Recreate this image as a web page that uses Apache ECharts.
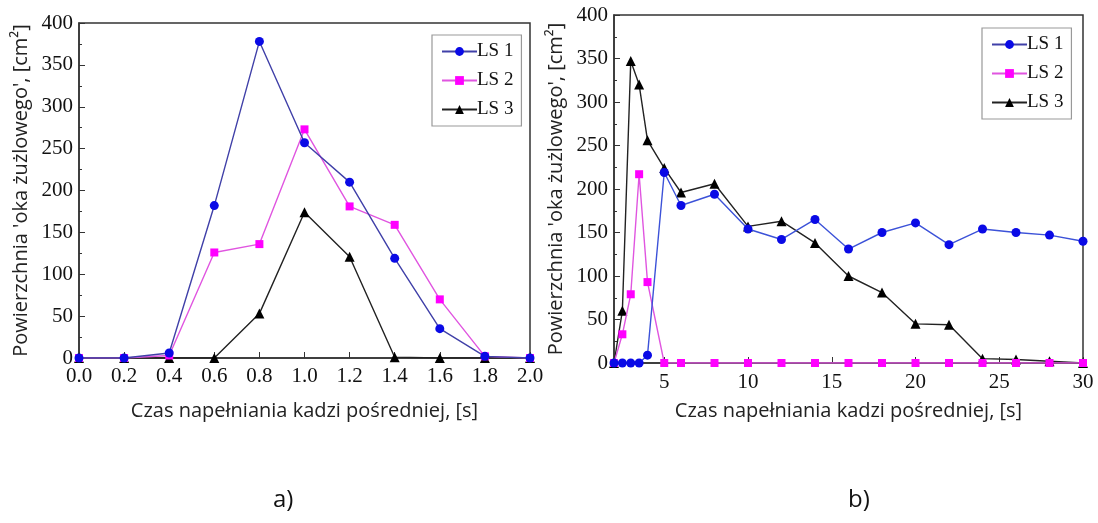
<!DOCTYPE html>
<html>
<head>
<meta charset="utf-8">
<script src="https://cdn.jsdelivr.net/npm/echarts@6/dist/echarts.min.js"></script>
<style>
  html, body { margin: 0; padding: 0; background: #fff; }
  #main { width: 1098px; height: 523px; }
</style>
</head>
<body>
<div id="main"></div>
<script>
// a) - czas 0..2 s
var timeA = [0, 0.2, 0.4, 0.6, 0.8, 1.0, 1.2, 1.4, 1.6, 1.8, 2.0];
var ls1A = [0, 0, 6, 182, 378, 257, 210, 119, 35, 2, 0];
var ls2A = [0, 0, 3, 126, 136, 273, 181, 159, 70, 2, 0];
var ls3A = [0, 0, 0, 0, 53, 174, 121, 1, 0, 0, 0];

// b) - czas 2..30 s
var timeB = [2, 2.5, 3, 3.5, 4, 5, 6, 8, 10, 12, 14, 16, 18, 20, 22, 24, 26, 28, 30];
var ls1B = [0, 0, 0, 0, 9, 219, 181, 194, 154, 142, 165, 131, 150, 161, 136, 154, 150, 147, 140];
var ls2B = [0, 33, 79, 217, 93, 0, 0, 0, 0, 0, 0, 0, 0, 0, 0, 0, 0, 0, 0];
var ls3B = [0, 60, 347, 320, 256, 224, 196, 206, 157, 163, 138, 100, 81, 45, 44, 5, 4, 2, 0];
var ticksB = [5, 10, 15, 20, 25, 30];

var names = ['LS 1', 'LS 2', 'LS 3'];
var yTitle = "Powierzchnia 'oka żużlowego', [cm²]";
var xTitle = 'Czas napełniania kadzi pośredniej, [s]';

function pairs(xs, ys) {
    return xs.map(function (x, i) { return [x, ys[i]]; });
}

var serif = 'Liberation Serif';
var sans = 'Open Sans';

var styles = [
    {symbol: 'circle', symbolSize: 9, marker: '#0a0ae6', lineA: '#4040a8', lineB: '#3c52d8'},
    {symbol: 'rect', symbolSize: 8, marker: '#ff00ff', lineA: '#e055e0', lineB: '#e055e0'},
    {symbol: 'triangle', symbolSize: 10, marker: '#000', lineA: '#222', lineB: '#222'}
];

function mkSeries(idx, xs, ys, axisIdx, lineKey) {
    var s = styles[idx];
    return {
        name: names[idx],
        type: 'line',
        xAxisIndex: axisIdx,
        yAxisIndex: axisIdx,
        data: pairs(xs, ys),
        symbol: s.symbol,
        symbolSize: s.symbolSize,
        showAllSymbol: true,
        itemStyle: {color: s.marker},
        lineStyle: {color: s[lineKey], width: 1.4},
        emphasis: {disabled: true},
        z: 3 - idx
    };
}

function yAxis(gridIdx) {
    return {
        type: 'value', gridIndex: gridIdx, min: 0, max: 400, interval: 50,
        name: yTitle, nameLocation: 'middle', nameGap: 48,
        nameTextStyle: {fontFamily: sans, fontSize: 20, color: '#222'},
        axisLine: {show: true, lineStyle: {color: '#333', width: 1.5}},
        axisTick: {show: true, inside: true, length: 6, lineStyle: {color: '#333'}},
        minorTick: {show: true, splitNumber: 2, length: 3, lineStyle: {color: '#333'}},
        splitLine: {show: false},
        axisLabel: {fontFamily: serif, fontSize: 21, color: '#111', margin: 6}
    };
}

function legend(left, top) {
    return {
        data: names, orient: 'vertical', left: left, top: top,
        itemWidth: 35, itemHeight: 11, itemGap: 10,
        padding: [7, 8, 7, 9],
        borderColor: '#999', borderWidth: 1.2, borderRadius: 0,
        textStyle: {fontFamily: serif, fontSize: 19, color: '#111', padding: [0, 0, 0, -5]}
    };
}

var chart = echarts.init(document.getElementById('main'));
chart.setOption({
    animation: false,
    backgroundColor: '#fff',
    grid: [
        {left: 79, top: 23, width: 451, height: 335, show: true, borderColor: '#333', borderWidth: 1.5},
        {left: 614, top: 15, width: 469, height: 348, show: true, borderColor: '#333', borderWidth: 1.5}
    ],
    legend: [legend(432, 35), legend(982, 28)],
    xAxis: [
        {
            type: 'value', gridIndex: 0, min: 0, max: 2, interval: 0.2,
            name: xTitle, nameLocation: 'middle', nameGap: 43,
            nameTextStyle: {fontFamily: sans, fontSize: 20, color: '#222'},
            axisLine: {show: true, lineStyle: {color: '#333', width: 1.5}},
            axisTick: {show: true, inside: true, length: 6, lineStyle: {color: '#333'}},
            splitLine: {show: false},
            axisLabel: {fontFamily: serif, fontSize: 21, color: '#111', margin: 8,
                formatter: function (v) { return v.toFixed(1); }}
        },
        {
            type: 'value', gridIndex: 1, min: 2, max: 30,
            name: xTitle, nameLocation: 'middle', nameGap: 38,
            nameTextStyle: {fontFamily: sans, fontSize: 20, color: '#222'},
            axisLine: {show: true, lineStyle: {color: '#333', width: 1.5}},
            axisTick: {show: true, inside: true, length: 6, customValues: ticksB, lineStyle: {color: '#333'}},
            splitLine: {show: false},
            axisLabel: {fontFamily: serif, fontSize: 21, color: '#111', margin: 9, customValues: ticksB}
        }
    ],
    yAxis: [yAxis(0), yAxis(1)],
    series: [
        mkSeries(0, timeA, ls1A, 0, 'lineA'),
        mkSeries(1, timeA, ls2A, 0, 'lineA'),
        mkSeries(2, timeA, ls3A, 0, 'lineA'),
        mkSeries(0, timeB, ls1B, 1, 'lineB'),
        mkSeries(1, timeB, ls2B, 1, 'lineB'),
        mkSeries(2, timeB, ls3B, 1, 'lineB')
    ],
    graphic: [
        {type: 'text', left: 273, top: 488, style: {text: 'a)', font: '24px "Open Sans"', fill: '#111'}},
        {type: 'text', left: 848, top: 488, style: {text: 'b)', font: '24px "Open Sans"', fill: '#111'}}
    ]
});
</script>
</body>
</html>
